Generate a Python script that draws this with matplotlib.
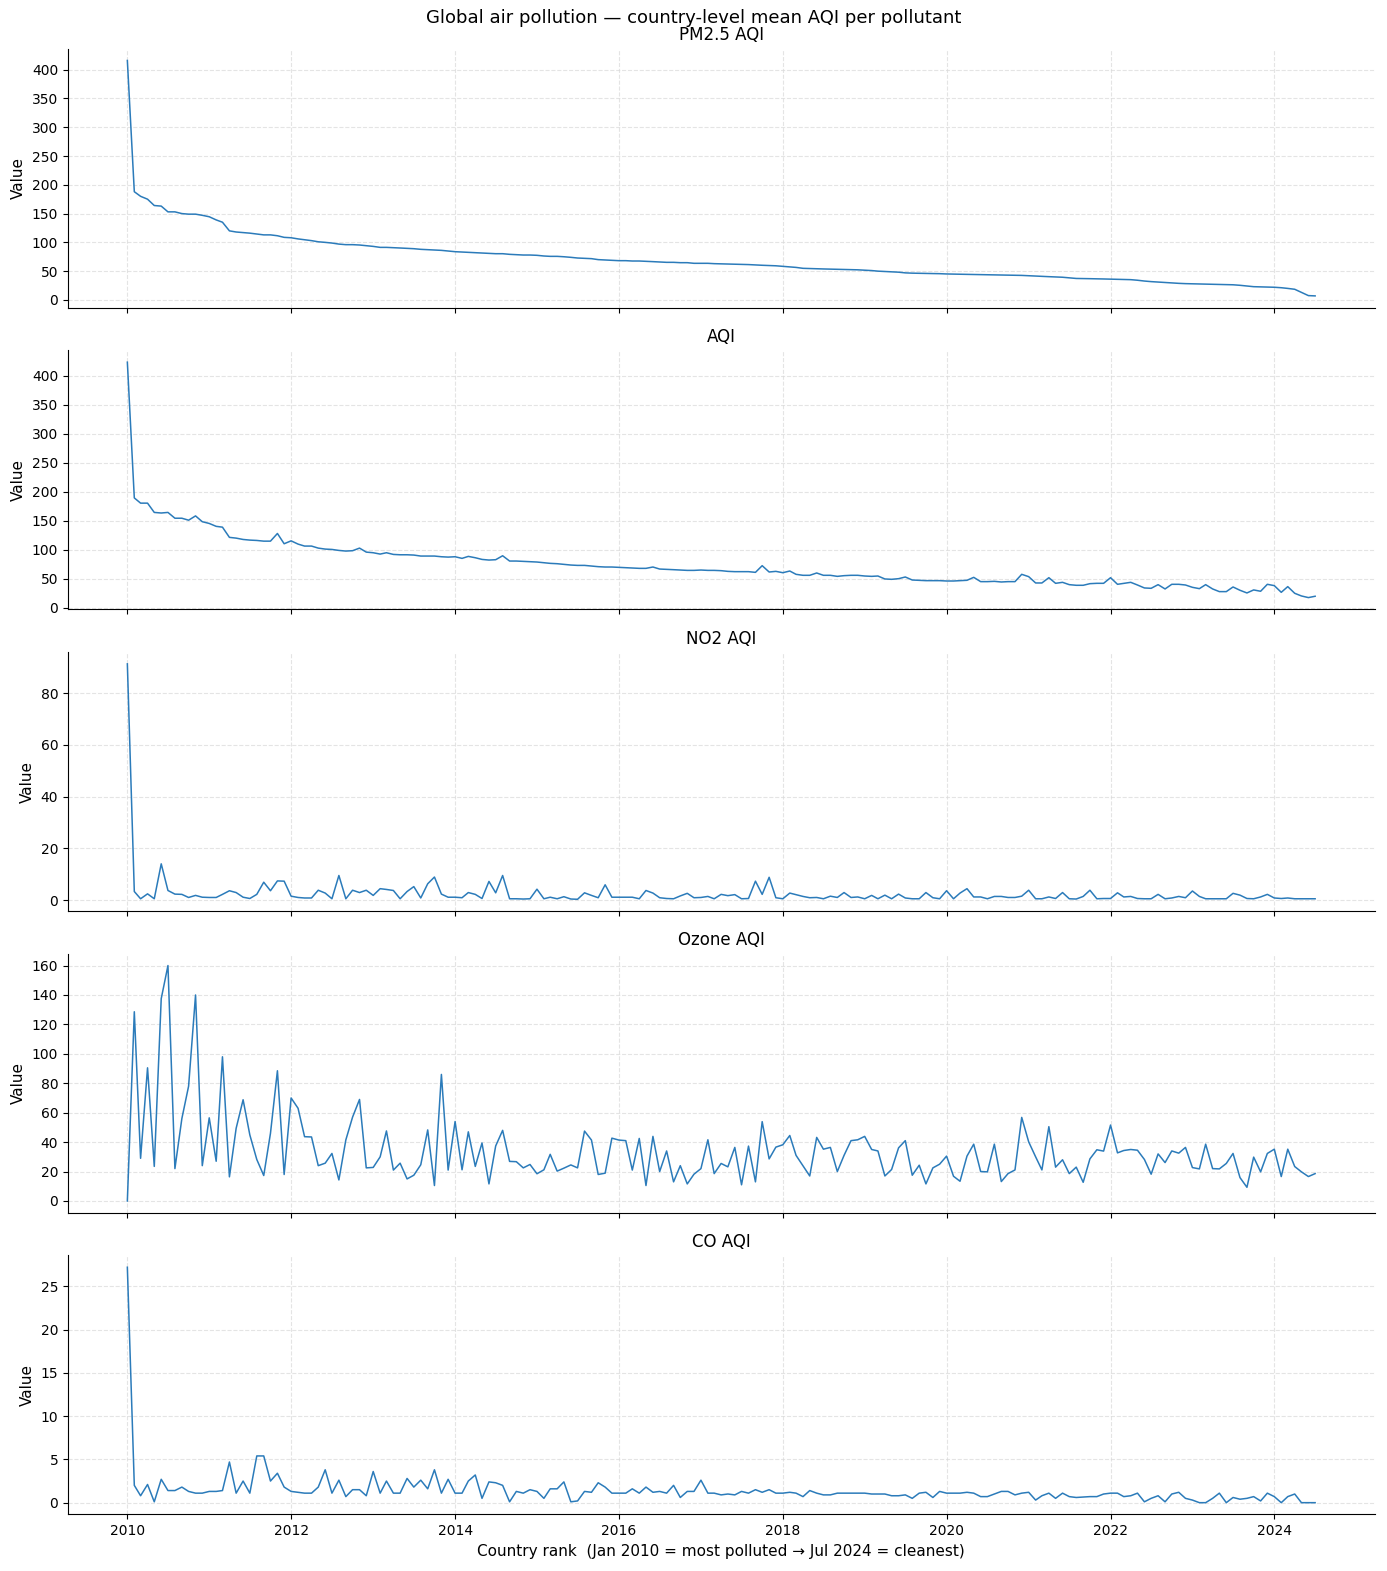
import numpy as np
import pandas as pd
import matplotlib
matplotlib.use("Agg")
import matplotlib.pyplot as plt

# country-level means, ranked from most polluted to cleanest, one per month slot
months = pd.date_range("2010-01-01", periods=175, freq="MS")

pm25 = [416, 188, 180, 175, 164, 163, 153, 153, 150, 149, 149, 147, 144.5, 139, 135, 120, 118, 117, 116, 114.5,
        113, 113, 111.5, 108.7, 108, 106, 104.6, 103, 101, 100, 98.8, 97, 96, 96, 95.4, 94.2, 93, 91.3, 91.3, 90.8,
        90.2, 89.6, 89, 87.9, 87.3, 86.7, 86.1, 85, 83.8, 83.2, 82.7, 82, 81.5, 81, 80.3, 80.3, 79.2, 78.6, 78, 78,
        77.5, 76.3, 75.7, 75.7, 75, 74, 72.8, 72.3, 71.7, 70, 69.4, 68.8, 68.2, 68.2, 67.6, 67.6, 67, 66.5, 66, 65.3,
        65.3, 64.7, 64.7, 63.6, 63.6, 63.6, 63.0, 62.7, 62.5, 62.2, 62, 61.4, 60.7, 60.2, 59.8, 59.3, 58.4, 57.5, 56.5, 54.9,
        54.5, 54.2, 53.8, 53.5, 53.2, 52.9, 52.6, 52.3, 51.6, 51, 50, 49.3, 48.8, 48.2, 47, 46.5, 46.2, 46, 45.8, 45.6,
        45.1, 44.8, 44.6, 44.4, 44.2, 44, 43.8, 43.6, 43.4, 43.2, 42.9, 42.6, 42.0, 41.3, 40.8, 40.4, 40.0, 39.4, 38.4, 37.3,
        37.0, 36.9, 36.7, 36.4, 36.1, 35.8, 35.5, 35.2, 34.2, 32.8, 31.8, 31, 30.3, 29.5, 28.8, 28.3, 28.0, 27.8, 27.5, 27.2,
        26.9, 26.6, 26.3, 25.4, 24.2, 23.0, 22.6, 22.3, 22.0, 21.2, 20.0, 18.5, 13.0, 7.5, 7.0]

aqi = [423, 189, 180, 180, 164, 163, 164, 154, 154, 150.6, 158, 148, 145, 140, 138.6, 121, 119.7, 117.4, 116.3, 115.7,
       114.5, 114.5, 127.7, 110, 115, 109.4, 106, 106, 102.5, 100.8, 100.2, 98.5, 97.4, 98, 102.5, 95.6, 94.5, 92.2, 94.5, 91.6,
       91, 91, 90.5, 88.8, 88.8, 88.8, 87.6, 87, 87.6, 84.8, 88.2, 85.9, 83, 81.9, 82.5, 89.3, 80.2, 80.2, 79.6, 79,
       78.5, 77.3, 76.2, 75.6, 74.5, 73.3, 72.7, 72.7, 71.6, 70.5, 69.9, 69.9, 69.3, 68.7, 68.2, 67.6, 67.6, 69.9, 66.4, 65.9,
       65.3, 64.7, 64.1, 64.1, 64.7, 64.1, 64.1, 63.6, 62.4, 61.9, 61.9, 61.9, 60.7, 72.2, 61.3, 62.4, 60.1, 63, 57.3, 55.6,
       55.6, 59.6, 55.6, 55.6, 53.8, 55, 55.6, 55.6, 54.4, 53.8, 54.4, 49.3, 48.7, 49.8, 52.7, 47.5, 47, 46.4, 46.4, 46.4,
       45.8, 45.8, 46.4, 47, 52.1, 44.7, 44.7, 45.2, 44.1, 44.7, 44.7, 57.3, 53.3, 42.4, 42.4, 51.5, 41.8, 43.5, 39.5, 38.4,
       38.4, 41.2, 41.8, 41.8, 51.5, 40.1, 41.8, 43.5, 38.9, 33.8, 33.2, 39.5, 32.1, 40.1, 40.1, 38.9, 34.9, 32.6, 39.5, 32.1,
       27.5, 27.5, 35.5, 29.8, 25.2, 30.4, 28.1, 40.1, 37.8, 26.3, 36.1, 24.6, 20, 17.2, 19.5]

no2 = [91.3, 3.3, 0.5, 2.4, 0.5, 14.0, 3.7, 2.3, 2.2, 1.0, 1.8, 1.1, 1.0, 1.0, 2.2, 3.6, 2.9, 1.1, 0.6, 2.2,
       6.9, 3.6, 7.4, 7.3, 1.5, 1.0, 0.8, 0.8, 3.8, 2.7, 0.5, 9.5, 0.5, 3.8, 2.9, 3.8, 1.8, 4.4, 4.1, 3.7,
       0.5, 3.3, 5.2, 0.8, 6.3, 8.9, 2.3, 1.1, 1.1, 0.9, 2.9, 2.2, 0.6, 7.2, 2.8, 9.5, 0.5, 0.5, 0.4, 0.5,
       4.2, 0.5, 1.1, 0.5, 1.3, 0.4, 0.3, 2.8, 1.8, 0.9, 5.9, 1.1, 1.1, 1.1, 1.1, 0.5, 3.7, 2.7, 0.9, 0.6,
       0.5, 1.6, 2.6, 0.9, 1.0, 1.4, 0.5, 2.2, 1.7, 2.1, 0.5, 0.6, 7.3, 2.2, 8.8, 0.9, 0.5, 2.7, 2.1, 1.4,
       0.9, 1.0, 0.5, 1.5, 1.0, 2.9, 1.0, 1.2, 0.5, 1.8, 0.5, 1.9, 0.5, 2.3, 0.8, 0.5, 0.5, 2.9, 0.9, 0.5,
       3.6, 0.5, 2.7, 4.4, 1.2, 1.2, 0.5, 1.4, 1.4, 1.0, 1.0, 1.5, 3.8, 0.5, 0.5, 1.2, 0.6, 2.9, 0.5, 0.4,
       1.4, 3.8, 0.5, 0.6, 0.6, 2.8, 1.2, 1.4, 0.6, 0.5, 0.5, 2.2, 0.5, 0.8, 1.4, 0.9, 3.5, 1.4, 0.5, 0.5,
       0.5, 0.5, 2.6, 1.9, 0.6, 0.5, 1.2, 2.2, 0.8, 0.6, 0.8, 0.5, 0.5, 0.5, 0.5]

ozone = [0, 128.6, 29, 90.5, 23.5, 137.5, 160, 22, 56, 78, 140, 24, 56.5, 27, 98, 16.4, 49.4, 68.8, 44.9, 28.2,
         17.3, 46, 88.5, 18, 70, 63, 43.7, 43.5, 24, 25.7, 32.3, 14.3, 41.5, 57, 69, 22.5, 22.8, 30, 47.6, 21,
         25.7, 15, 17.5, 24.6, 48.3, 10.5, 86, 21, 54, 21.2, 47, 23.5, 39.4, 11.6, 37.4, 48, 26.9, 26.7, 22.5, 24.8,
         18.5, 21.2, 31.7, 20.3, 22.3, 24.5, 22.5, 47.5, 41.4, 18, 18.9, 42.7, 41.4, 41, 21, 42.5, 10.5, 43.9, 20, 34,
         13, 24, 11.6, 18.2, 22, 41.6, 18.6, 25.5, 23.2, 36.4, 11, 37.3, 13, 53.9, 28.6, 36.6, 38.2, 44.5, 31, 23.9,
         17, 43.2, 35.2, 36.4, 20, 31, 41, 41.6, 43.9, 35, 34, 17, 21.4, 36.1, 41, 17.5, 24.3, 11.6, 22.5, 25,
         30.5, 16.8, 13.4, 30.5, 38.6, 20, 19.8, 38.6, 13.2, 18.6, 21.1, 56.8, 40.2, 30, 21.1, 50.5, 23, 28, 18.6, 23,
         12.7, 28.6, 34.8, 33.9, 51.6, 32.7, 34.3, 35, 34.5, 28.2, 18.2, 32, 26.1, 34, 32.5, 36.4, 22.7, 21.8, 38.6, 22,
         21.8, 25.5, 32.3, 15.9, 9.3, 29.8, 19.8, 32.3, 35.2, 16.6, 35.2, 23.4, 19.8, 16.6, 18.6]

co = [27.2, 2.0, 0.8, 2.1, 0.1, 2.7, 1.4, 1.4, 1.8, 1.3, 1.1, 1.1, 1.3, 1.3, 1.4, 4.7, 1.1, 2.5, 1.1, 5.4,
      5.4, 2.5, 3.4, 1.8, 1.3, 1.2, 1.1, 1.1, 1.8, 3.8, 1.1, 2.6, 0.7, 1.5, 1.5, 0.8, 3.6, 1.1, 2.5, 1.1,
      1.1, 2.8, 1.8, 2.6, 1.6, 3.8, 1.1, 2.7, 1.1, 1.1, 2.5, 3.2, 0.5, 2.4, 2.3, 2.0, 0.1, 1.3, 1.1, 1.5,
      1.3, 0.5, 1.6, 1.6, 2.4, 0.1, 0.2, 1.3, 1.2, 2.3, 1.8, 1.1, 1.1, 1.1, 1.6, 1.1, 1.8, 1.2, 1.3, 1.1,
      2.0, 0.6, 1.3, 1.3, 2.6, 1.1, 1.1, 0.9, 1.0, 0.9, 1.3, 1.1, 1.5, 1.2, 1.5, 1.1, 1.1, 1.2, 1.1, 0.7,
      1.4, 1.1, 0.9, 0.9, 1.1, 1.1, 1.1, 1.1, 1.1, 1.0, 1.0, 1.0, 0.8, 0.8, 0.9, 0.5, 1.1, 1.2, 0.6, 1.3,
      1.1, 1.1, 1.1, 1.2, 1.1, 0.7, 0.7, 1.0, 1.3, 1.3, 0.9, 1.1, 1.2, 0.3, 0.8, 1.1, 0.5, 1.1, 0.7, 0.6,
      0.65, 0.7, 0.7, 1.0, 1.1, 1.1, 0.7, 0.8, 1.1, 0.1, 0.5, 0.8, 0.1, 1.0, 1.2, 0.5, 0.3, 0.0, 0.0, 0.5,
      1.1, 0.0, 0.6, 0.4, 0.5, 0.7, 0.2, 1.1, 0.7, 0.0, 0.7, 1.0, 0.0, 0.0, 0.0]

titles = ["PM2.5 AQI", "AQI", "NO2 AQI", "Ozone AQI", "CO AQI"]
series = [pm25, aqi, no2, ozone, co]

fig, axes = plt.subplots(5, 1, figsize=(13.87, 15.71), dpi=100, sharex=True)
fig.subplots_adjust(left=0.049, right=0.991, top=0.969, bottom=0.036, hspace=0.165)

for ax, title, vals in zip(axes, titles, series):
    ax.plot(months, vals, color="#2b7bba", linewidth=1.1)
    ax.set_title(title, fontsize=12)
    ax.set_ylabel("Value", fontsize=11)
    ax.grid(True, linestyle="--", color="#d9d9d9", alpha=0.7, linewidth=0.8)
    ax.spines["top"].set_visible(False)
    ax.spines["right"].set_visible(False)

axes[-1].set_xlabel("Country rank  (Jan 2010 = most polluted \u2192 Jul 2024 = cleanest)", fontsize=11)
fig.suptitle("Global air pollution \u2014 country-level mean AQI per pollutant", fontsize=13, y=0.994)

fig.savefig("out.png", dpi=100)
